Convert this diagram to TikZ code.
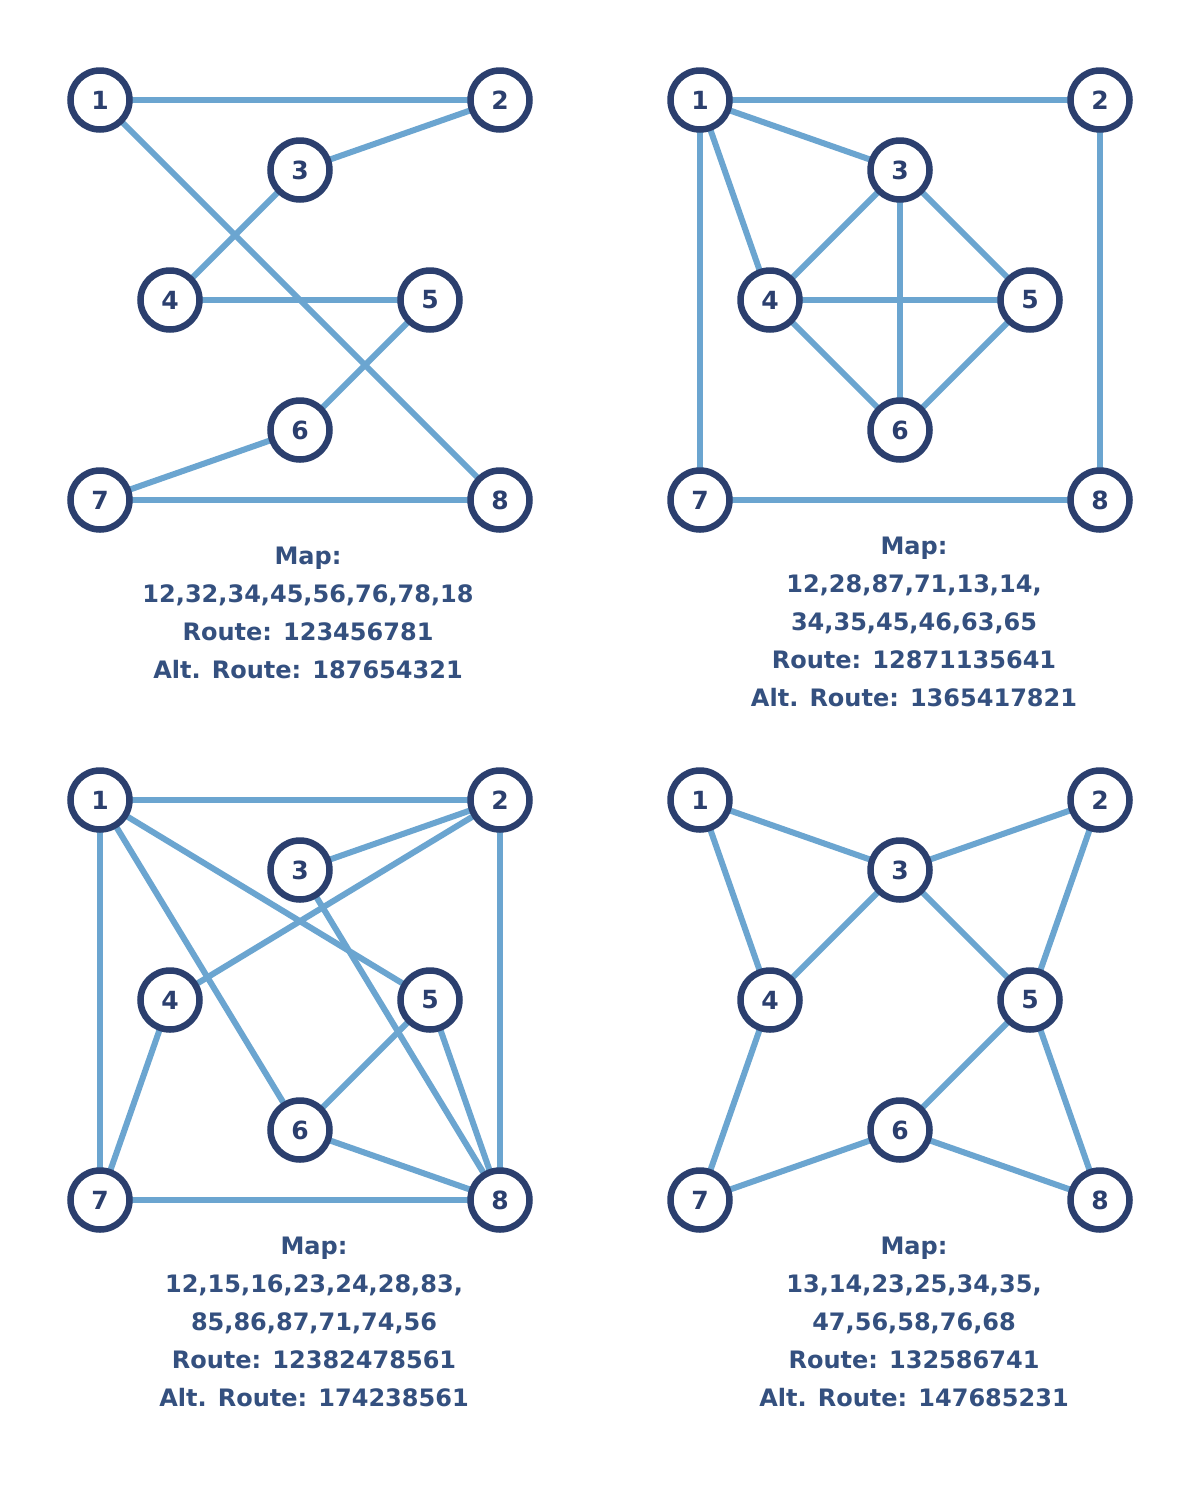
\documentclass[tikz,border=0pt]{standalone}
\usepackage{fontspec}
\setmainfont{DejaVu Sans}
\begin{document}
\begin{tikzpicture}[x=1pt,y=-1pt,
  vtx/.style={circle,draw=navy,line width=6.5pt,fill=white,minimum size=59pt,inner sep=0pt,
    text=navy,font=\fontsize{25}{25}\selectfont\bfseries},
  edge/.style={draw=edgeblue,line width=6pt},
  caption/.style={text=captionblue,font=\fontsize{24}{38}\selectfont\bfseries,align=center,anchor=north}]
\definecolor{navy}{HTML}{2B3F6E}
\definecolor{edgeblue}{HTML}{6BA5D0}
\definecolor{captionblue}{HTML}{34507F}
\useasboundingbox (0,0) rectangle (1200,1500);
\fill[white] (0,0) rectangle (1200,1500);

% one graph: offset in pt, list of edges
\newcommand{\routegraph}[3]{%
  \begin{scope}[shift={(#1,#2)}]
    \coordinate (p1) at (100,100);
    \coordinate (p2) at (500,100);
    \coordinate (p3) at (300,170);
    \coordinate (p4) at (170,300);
    \coordinate (p5) at (430,300);
    \coordinate (p6) at (300,430);
    \coordinate (p7) at (100,500);
    \coordinate (p8) at (500,500);
    \foreach \a/\b in {#3} { \draw[edge] (p\a) -- (p\b); }
    \foreach \i in {1,...,8} { \node[vtx] (v\i) at (p\i) {\i}; }
  \end{scope}}

\routegraph{0}{0}{1/2,3/2,3/4,4/5,5/6,7/6,7/8,1/8}
\routegraph{600}{0}{1/2,2/8,8/7,7/1,1/3,1/4,3/4,3/5,4/5,4/6,6/3,6/5}
\routegraph{0}{700}{1/2,1/5,1/6,2/3,2/4,2/8,8/3,8/5,8/6,8/7,7/1,7/4,5/6}
\routegraph{600}{700}{1/3,1/4,2/3,2/5,3/4,3/5,4/7,5/6,5/8,7/6,6/8}

\node[caption] (c1) at (308,543) {Map:\\12,32,34,45,56,76,78,18\\Route: 123456781\\Alt. Route: 187654321};
\node[caption] (c2) at (914,533) {Map:\\12,28,87,71,13,14,\\34,35,45,46,63,65\\Route: 12871135641\\Alt. Route: 1365417821};
\node[caption] (c3) at (314,1233) {Map:\\12,15,16,23,24,28,83,\\85,86,87,71,74,56\\Route: 12382478561\\Alt. Route: 174238561};
\node[caption] (c4) at (914,1233) {Map:\\13,14,23,25,34,35,\\47,56,58,76,68\\Route: 132586741\\Alt. Route: 147685231};
\end{tikzpicture}
\end{document}
